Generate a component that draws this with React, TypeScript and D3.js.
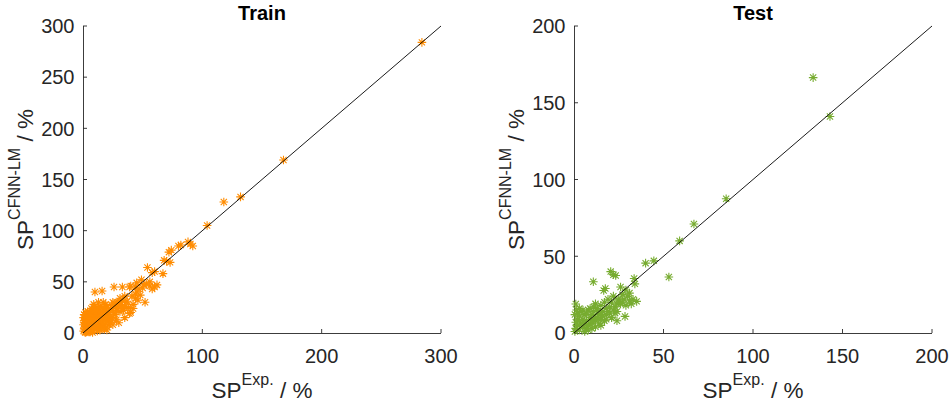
import React from "react";
import * as d3 from "d3";

const trainTitle = "Train";
const testTitle = "Test";
const trainTicksX = [0, 100, 200, 300];
const trainTicksY = [0, 50, 100, 150, 200, 250, 300];
const testTicksX = [0, 50, 100, 150, 200];
const testTicksY = [0, 50, 100, 150, 200];

// [SP Exp., SP CFNN-LM]
const trainPoints: [number, number][] = [
  [284, 284], [168, 169], [132, 133], [118, 128], [104, 105], [92, 85], [90, 87], [88, 89],
  [82, 86], [80, 85], [74, 81], [72, 79], [73, 69], [70, 70], [68, 71], [67, 58], [60, 60],
  [58, 59], [54, 64], [60, 45], [58, 43], [56, 46], [51, 47], [49, 52], [45, 49], [44, 45],
  [40, 46], [39, 45], [33, 45], [26, 45], [16, 41], [10, 40], [48, 37], [52, 30], [46, 32],
  [44, 34], [42, 28], [40, 20], [39, 19], [37, 31], [34, 22], [31, 21], [28, 13], [25, 22],
  [27, 27], [30, 30], [33, 32], [35, 36], [36, 30], [38, 25], [32, 28], [29, 24], [26, 18],
  [24, 15], [22, 20], [20, 25], [19, 28], [17, 30], [15, 26], [14, 22], [13, 30], [12, 25],
  [10, 26], [9, 28], [8, 22], [7, 24], [6, 20], [5, 18], [4, 21], [3, 19], [2, 20], [1, 18],
  [0.5, 15], [1, 12], [2, 14], [3, 10], [4, 8], [5, 5], [6, 12], [7, 10], [8, 15], [9, 8],
  [10, 12], [11, 16], [12, 18], [13, 14], [14, 10], [15, 8], [16, 16], [17, 12], [18, 20],
  [19, 15], [20, 18], [21, 12], [22, 8], [23, 24], [24, 27], [25, 30], [26, 29], [27, 18],
  [28, 22], [29, 30], [30, 25], [31, 34], [33, 24], [35, 26], [0.5, 2], [1, 4], [1.5, 1],
  [2, 6], [3, 3], [4, 2], [5, 1], [6, 4], [7, 6], [8, 3], [9, 5], [10, 4], [11, 6], [12, 8],
  [13, 5], [14, 3], [15, 12], [16, 6], [17, 8], [18, 4], [19, 10], [20, 6], [21, 14], [22, 16],
  [23, 10], [24, 12], [0.5, 8], [1, 10], [2, 9], [3, 13], [4, 15], [5, 13], [6, 16], [7, 14],
  [8, 18], [9, 17], [10, 20], [11, 21], [12, 22], [13, 19], [14, 17], [15, 16], [16, 20],
  [17, 22], [18, 24], [19, 22], [20, 21], [2, 0.5], [3, 1], [6, 1], [8, 0.5], [12, 2], [15, 4],
  [20, 3], [25, 8], [30, 10], [35, 15], [42, 24], [45, 40], [47, 43], [50, 44], [53, 48],
  [56, 50], [62, 47], [44, 38], [41, 36],
];

const testPoints: [number, number][] = [
  [133.6, 166.4], [143, 141], [85, 87.5], [67, 71], [59, 60], [53, 36.5], [44.6, 47], [40, 45.5],
  [20.5, 40], [23.3, 37.5], [22, 38], [10.8, 33.4], [16.6, 27.7], [17.5, 29], [33.6, 35.5],
  [34, 32], [28.5, 10.8], [35, 20.6], [33, 22], [31, 26], [29, 28], [27, 25], [26, 30], [25, 22],
  [24, 19], [22, 24], [21, 20], [20, 17], [19, 22], [18, 16], [17, 20], [16, 14], [15, 18],
  [14, 12], [13, 16], [12, 19], [11, 14], [10, 12], [9, 10], [8, 15], [7, 8], [6, 12], [5, 9],
  [4, 6], [3, 8], [2, 5], [1, 3], [0.5, 1], [1, 18.9], [2, 13], [3, 11], [4, 14], [5, 4], [6, 6],
  [7, 3], [8, 5], [9, 6], [10, 7], [11, 9], [12, 8], [13, 10], [14, 6], [15, 9], [16, 11],
  [17, 8], [18, 12], [19, 14], [20, 13], [22, 15], [23, 17], [24, 14], [25, 21], [26, 19],
  [27, 20], [28, 22], [29, 18], [30, 24], [31, 21], [32, 19], [23, 13], [21, 10], [24, 8],
  [18, 9], [15, 5], [12, 4], [10, 3], [8, 2], [6, 1], [3, 2], [2, 9], [1, 7], [0.5, 12],
  [1.5, 15], [3, 16], [5, 15], [7, 13], [9, 16], [11, 17], [13, 14], [15, 13], [12, 10], [10, 8],
];

const FONT = "'Liberation Sans', Arial, Helvetica, sans-serif";
const AXIS = "#262626";

function star(r: number) {
  const d = r * 0.72;
  return `M${-r},0H${r}M0,${-r}V${r}M${-d},${-d}L${d},${d}M${-d},${d}L${d},${-d}`;
}

type PanelProps = {
  left: number;
  right: number;
  top: number;
  bottom: number;
  max: number;
  ticksX: number[];
  ticksY: number[];
  points: [number, number][];
  color: string;
  title: string;
  ylabelX: number;
};

function Panel(p: PanelProps) {
  const x = d3.scaleLinear().domain([0, p.max]).range([p.left, p.right]);
  const y = d3.scaleLinear().domain([0, p.max]).range([p.bottom, p.top]);
  const cx = (p.left + p.right) / 2;
  const cy = (p.top + p.bottom) / 2;
  const marker = star(4.3);
  return (
    <g>
      <path
        d={`M${p.left + 0.5},${p.top}V${p.bottom + 0.5}H${p.right}`}
        fill="none"
        stroke={AXIS}
        strokeWidth={0.9}
      />
      {p.ticksX.map((t) => (
        <g key={"x" + t}>
          <line x1={x(t)} x2={x(t)} y1={p.bottom} y2={p.bottom - 4} stroke={AXIS} strokeWidth={0.9} />
          <text x={x(t)} y={p.bottom + 29.5} textAnchor="middle" fontSize={20} fontFamily={FONT} fill={AXIS}>
            {t}
          </text>
        </g>
      ))}
      {p.ticksY.map((t) => (
        <g key={"y" + t}>
          <line x1={p.left} x2={p.left + 4} y1={y(t)} y2={y(t)} stroke={AXIS} strokeWidth={0.9} />
          <text x={p.left - 8.5} y={y(t) + 7.3} textAnchor="end" fontSize={20} fontFamily={FONT} fill={AXIS}>
            {t}
          </text>
        </g>
      ))}
      {p.points.map((pt, i) => (
        <path
          key={i}
          d={marker}
          transform={`translate(${x(pt[0])},${y(pt[1])})`}
          stroke={p.color}
          strokeWidth={1.1}
          fill="none"
        />
      ))}
      <line x1={x(0)} y1={y(0)} x2={x(p.max)} y2={y(p.max)} stroke="#000" strokeWidth={0.9} />
      <text x={cx} y={19.5} textAnchor="middle" fontSize={20} fontWeight="bold" fontFamily={FONT} fill="#000">
        {p.title}
      </text>
      <text x={cx} y={398} textAnchor="middle" fontSize={22.5} fontFamily={FONT} fill={AXIS}>
        SP
        <tspan dy={-13} fontSize={16}>Exp.</tspan>
        <tspan dy={13}> / %</tspan>
      </text>
      <text
        transform={`translate(${p.ylabelX},${cy}) rotate(-90)`}
        textAnchor="middle"
        fontSize={22.5}
        fontFamily={FONT}
        fill={AXIS}
      >
        SP
        <tspan dy={-13} fontSize={16}>CFNN-LM</tspan>
        <tspan dy={13}> / %</tspan>
      </text>
    </g>
  );
}

export default function App() {
  return (
    <svg
      width={952}
      height={411}
      viewBox="0 0 952 411"
      style={{ position: "absolute", left: 0, top: 0, background: "#fff" }}
    >
      <rect width={952} height={411} fill="#fff" />
      <Panel
        left={83}
        right={441}
        top={26}
        bottom={333}
        max={300}
        ticksX={trainTicksX}
        ticksY={trainTicksY}
        points={trainPoints}
        color="#FF8C00"
        title={trainTitle}
        ylabelX={33}
      />
      <Panel
        left={574}
        right={932}
        top={26}
        bottom={333}
        max={200}
        ticksX={testTicksX}
        ticksY={testTicksY}
        points={testPoints}
        color="#77AC30"
        title={testTitle}
        ylabelX={524}
      />
    </svg>
  );
}
